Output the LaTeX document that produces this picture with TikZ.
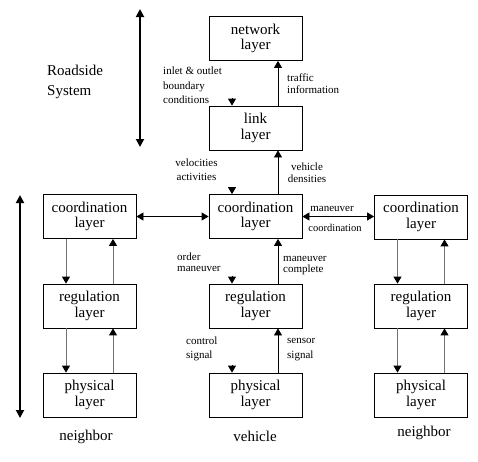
\documentclass[tikz,border=0pt]{standalone}
\usepackage{fontspec}
\setmainfont{Liberation Serif}
\usetikzlibrary{arrows.meta}
\begin{document}
\begin{tikzpicture}[x=1pt,y=-1pt,
  box/.style={draw=black, line width=0.8pt, minimum width=93pt, minimum height=44pt, inner sep=0pt, align=center, font=\fontsize{15}{15.5}\selectfont},
  lbl/.style={inner sep=0pt, font=\fontsize{11}{13}\selectfont},
  tip/.style={-{Triangle[width=8pt,length=7pt,color=black]}},
  dtip/.style={{Triangle[width=8pt,length=7pt,color=black]}-{Triangle[width=8pt,length=7pt,color=black]}},
  carrow/.style={tip, line width=0.8pt, draw=black},
  sarrow/.style={tip, line width=0.9pt, draw=black!55},
  onlytip/.style={tip, line width=0.8pt, shorten <=37pt},
  bigarrow/.style={line width=1.8pt, {Triangle[width=8pt,length=8pt]}-{Triangle[width=8pt,length=8pt]}}
]
\useasboundingbox (0,0) rectangle (478,461);

% central column
\node[box] (net)  at (255.5,38.5) {network\\layer};
\node[box] (link) at (255.5,128)  {link\\layer};
\node[box] (cco)  at (255.5,216.5){coordination\\layer};
\node[box] (cre)  at (255.5,306)  {regulation\\layer};
\node[box] (cph)  at (255.5,395)  {physical\\layer};
% left column
\node[box] (lco)  at (89.5,216.5) {coordination\\layer};
\node[box] (lre)  at (89.5,306)   {regulation\\layer};
\node[box] (lph)  at (89.5,395)   {physical\\layer};
% right column
\node[box] (rco)  at (421,217)    {coordination\\layer};
\node[box] (rre)  at (421,306)    {regulation\\layer};
\node[box] (rph)  at (421,395)    {physical\\layer};

% central up arrows
\draw[carrow] ([xshift=22.5pt]link.north) -- ([xshift=22.5pt]net.south);
\draw[carrow] ([xshift=22.5pt]cco.north) -- ([xshift=22.5pt]link.south);
\draw[carrow] ([xshift=22.5pt]cre.north) -- ([xshift=22.5pt]cco.south);
\draw[carrow] ([xshift=22.5pt]cph.north) -- ([xshift=22.5pt]cre.south);
% central down arrowheads only
\draw[onlytip] ([xshift=-23.5pt]net.south) -- ([xshift=-23.5pt]link.north);
\draw[onlytip] ([xshift=-23.5pt]link.south) -- ([xshift=-23.5pt]cco.north);
\draw[onlytip] ([xshift=-23.5pt]cco.south) -- ([xshift=-23.5pt]cre.north);
\draw[onlytip] ([xshift=-23.5pt]cre.south) -- ([xshift=-23.5pt]cph.north);

% side columns
\draw[sarrow] ([xshift=-23.5pt]lco.south) -- ([xshift=-23.5pt]lre.north);
\draw[sarrow] ([xshift=23.5pt]lre.north) -- ([xshift=23.5pt]lco.south);
\draw[sarrow] ([xshift=-23.5pt]lre.south) -- ([xshift=-23.5pt]lph.north);
\draw[sarrow] ([xshift=23.5pt]lph.north) -- ([xshift=23.5pt]lre.south);
\draw[sarrow] ([xshift=-23.5pt]rco.south) -- ([xshift=-23.5pt]rre.north);
\draw[sarrow] ([xshift=23.5pt]rre.north) -- ([xshift=23.5pt]rco.south);
\draw[sarrow] ([xshift=-23.5pt]rre.south) -- ([xshift=-23.5pt]rph.north);
\draw[sarrow] ([xshift=23.5pt]rph.north) -- ([xshift=23.5pt]rre.south);

% horizontal double arrows
\draw[dtip, line width=0.8pt] (lco.east) -- (cco.west);
\draw[dtip, line width=0.8pt] (cco.east) -- (rco.west |- cco.east);

% big vertical arrows
\coordinate (rs1) at (140,9);
\coordinate (rs2) at (140,147);
\draw[bigarrow] (rs1) -- (rs2);
\coordinate (vb1) at (20,195);
\coordinate (vb2) at (20,418);
\draw[bigarrow] (vb1) -- (vb2);

% labels
\node[lbl, font=\fontsize{15}{20}\selectfont, align=left, anchor=west] (rs) at (47,82) {Roadside\\System};
\node[lbl, align=left, anchor=west, font=\fontsize{11}{14.5}\selectfont] (l1) at (163,85.5) {inlet \& outlet\\boundary\\conditions};
\node[lbl, align=left, anchor=west, font=\fontsize{11}{11.5}\selectfont] (l2) at (287,83.5) {traffic\\information};
\node[lbl, align=center, font=\fontsize{11}{14}\selectfont] (l3) at (196.5,170) {velocities\\activities};
\node[lbl, align=center, font=\fontsize{11}{11.5}\selectfont] (l4) at (307,172.5) {vehicle\\densities};
\node[lbl] (l5) at (332,208.5) {maneuver};
\node[lbl, font=\fontsize{10.5}{12}\selectfont] (l6) at (335,227.5) {coordination};
\node[lbl, align=left, anchor=west, font=\fontsize{11}{11}\selectfont] (l7) at (177,262) {order\\maneuver};
\node[lbl, align=left, anchor=west, font=\fontsize{11}{11.5}\selectfont] (l8) at (283,265.5) {maneuver\\complete};
\node[lbl, align=left, anchor=west, font=\fontsize{11}{14}\selectfont] (l9) at (186,349) {control\\signal};
\node[lbl, align=left, anchor=west, font=\fontsize{11}{14.5}\selectfont] (l10) at (287,349.5) {sensor\\signal};
\node[lbl, font=\fontsize{15}{18}\selectfont] (n1) at (86,437) {neighbor};
\node[lbl, font=\fontsize{15}{18}\selectfont] (n2) at (255,436) {vehicle};
\node[lbl, font=\fontsize{15}{18}\selectfont] (n3) at (424,433) {neighbor};
\end{tikzpicture}
\end{document}
